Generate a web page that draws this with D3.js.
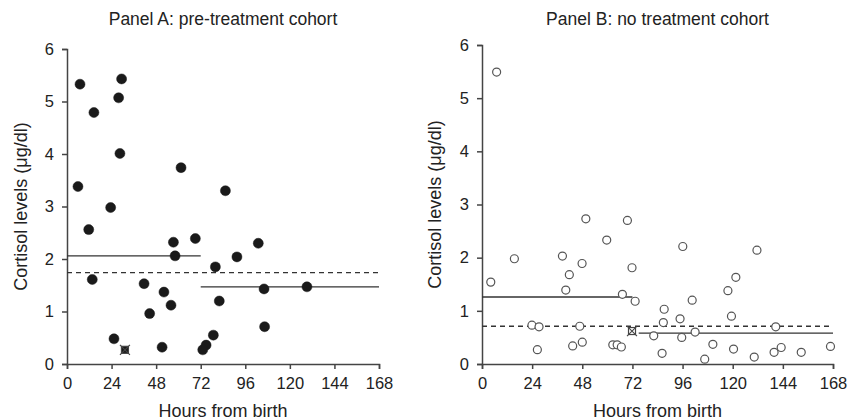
<!DOCTYPE html>
<html>
<head>
<meta charset="utf-8">
<script src="https://cdn.jsdelivr.net/npm/d3@7"></script>
<style>
  body { margin: 0; background: #fff; }
  svg text { font-family: "Liberation Sans", Arial, sans-serif; fill: #222; }
  .axis path, .axis line { stroke: #444; stroke-width: 1.5; }
  .axis text { font-size: 16.5px; }
</style>
</head>
<body>
<svg width="850" height="420"></svg>
<script>
// Panel A: pre-treatment cohort (hours, cortisol)
const hoursA = [7.0, 29.4, 27.8, 14.5, 28.5, 61.4, 5.9, 23.5, 85.3, 11.7, 57.3, 69.1, 58.2, 13.6, 41.5,
  52.2, 56.0, 44.5, 25.3, 51.2, 103, 91.5, 79.9, 106.1, 129.2, 82.0, 106.4, 78.8, 74.9, 73.1];
const cortisolA = [5.33, 5.43, 5.07, 4.79, 4.01, 3.74, 3.38, 2.98, 3.30, 2.56, 2.32, 2.39, 2.06, 1.61, 1.53,
  1.37, 1.12, 0.96, 0.48, 0.32, 2.30, 2.04, 1.85, 1.43, 1.47, 1.20, 0.71, 0.55, 0.36, 0.27];
const markedA = [31.2, 0.27];
// means: before 72h, after 72h, overall (dashed)
const meanA = [2.06, 1.47, 1.74];

// Panel B: no treatment cohort
const hoursB = [7.0, 49.7, 69.6, 59.7, 4.2, 15.5, 38.5, 47.9, 41.8, 40.1, 71.8, 67.2, 73.3, 23.9, 27.3,
  46.8, 26.5, 43.4, 48.0, 62.6, 64.7, 66.7, 96.1, 131.6, 121.5, 117.7, 100.6, 87.2, 86.8, 94.8,
  119.4, 140.6, 102.0, 82.2, 95.6, 86.2, 106.6, 110.5, 120.4, 130.3, 139.8, 143.2, 152.8, 166.8];
const cortisolB = [5.49, 2.73, 2.70, 2.33, 1.54, 1.98, 2.03, 1.89, 1.68, 1.39, 1.81, 1.31, 1.18, 0.73, 0.70,
  0.71, 0.27, 0.34, 0.41, 0.36, 0.36, 0.32, 2.21, 2.14, 1.63, 1.38, 1.20, 1.03, 0.78, 0.85,
  0.90, 0.70, 0.60, 0.53, 0.50, 0.20, 0.09, 0.37, 0.28, 0.13, 0.22, 0.31, 0.22, 0.33];
const markedB = [71.8, 0.62];
const meanB = [1.26, 0.58, 0.71];

const xTicks = [0, 24, 48, 72, 96, 120, 144, 168];
const yTicks = [0, 1, 2, 3, 4, 5, 6];

const svg = d3.select("svg");

function drawPanel(opt) {
  const x = d3.scaleLinear().domain([0, 168]).range([opt.x0, opt.x1]);
  const y = d3.scaleLinear().domain([0, 6]).range([opt.y0, opt.y1]);
  const g = svg.append("g");

  g.append("g").attr("class", "axis")
    .attr("transform", `translate(0,${opt.y0})`)
    .call(d3.axisBottom(x).tickValues(xTicks).tickFormat(d3.format("d"))
      .tickSizeOuter(0).tickSize(5).tickPadding(8));
  g.append("g").attr("class", "axis")
    .attr("transform", `translate(${opt.x0},0)`)
    .call(d3.axisLeft(y).tickValues(yTicks).tickFormat(d3.format("d"))
      .tickSizeOuter(0).tickSize(5).tickPadding(8));

  // mean lines
  g.append("line").attr("x1", x(0)).attr("x2", x(72))
    .attr("y1", y(opt.mean[0])).attr("y2", y(opt.mean[0]))
    .attr("stroke", "#333").attr("stroke-width", 1.3);
  g.append("line").attr("x1", x(opt.split)).attr("x2", x(168))
    .attr("y1", y(opt.mean[1])).attr("y2", y(opt.mean[1]))
    .attr("stroke", "#333").attr("stroke-width", 1.3);
  g.append("line").attr("x1", x(0)).attr("x2", x(168))
    .attr("y1", y(opt.mean[2])).attr("y2", y(opt.mean[2]))
    .attr("stroke", "#333").attr("stroke-width", 1.3).attr("stroke-dasharray", "5,4");

  g.selectAll("circle.pt").data(d3.zip(opt.hours, opt.vals)).enter().append("circle")
    .attr("class", "pt")
    .attr("cx", d => x(d[0])).attr("cy", d => y(d[1]))
    .attr("r", opt.filled ? 5 : 4)
    .attr("fill", opt.filled ? "#1a1a1a" : "#fff")
    .attr("stroke", opt.filled ? "#1a1a1a" : "#555")
    .attr("stroke-width", opt.filled ? 0.5 : 1.2);

  // marked point (square with a cross)
  const mx = x(opt.marked[0]), my = y(opt.marked[1]);
  g.append("rect").attr("x", mx - 3.5).attr("y", my - 3.5).attr("width", 7).attr("height", 7)
    .attr("fill", opt.filled ? "#1a1a1a" : "#fff").attr("stroke", "#444").attr("stroke-width", 1.2);
  g.append("path")
    .attr("d", `M${mx - 5},${my - 5}L${mx + 5},${my + 5}M${mx + 5},${my - 5}L${mx - 5},${my + 5}`)
    .attr("stroke", "#444").attr("stroke-width", 1.1);

  g.append("text").attr("x", (opt.x0 + opt.x1) / 2).attr("y", 25)
    .attr("text-anchor", "middle").style("font-size", "17.5px").text(opt.title);
  g.append("text").attr("x", (opt.x0 + opt.x1) / 2).attr("y", 417)
    .attr("text-anchor", "middle").style("font-size", "18px").text("Hours from birth");
  g.append("text")
    .attr("transform", `translate(${opt.labelX},${(opt.y0 + opt.y1) / 2}) rotate(-90)`)
    .attr("text-anchor", "middle").style("font-size", "18px").text("Cortisol levels (μg/dl)");
}

drawPanel({ x0: 67, x1: 379, y0: 364, y1: 49, hours: hoursA, vals: cortisolA, marked: markedA,
  mean: meanA, split: 72, filled: true, title: "Panel A: pre-treatment cohort", labelX: 27 });
drawPanel({ x0: 482, x1: 833, y0: 364, y1: 45, hours: hoursB, vals: cortisolB, marked: markedB,
  mean: meanB, split: 75, filled: false, title: "Panel B: no treatment cohort", labelX: 441 });
</script>
</body>
</html>
